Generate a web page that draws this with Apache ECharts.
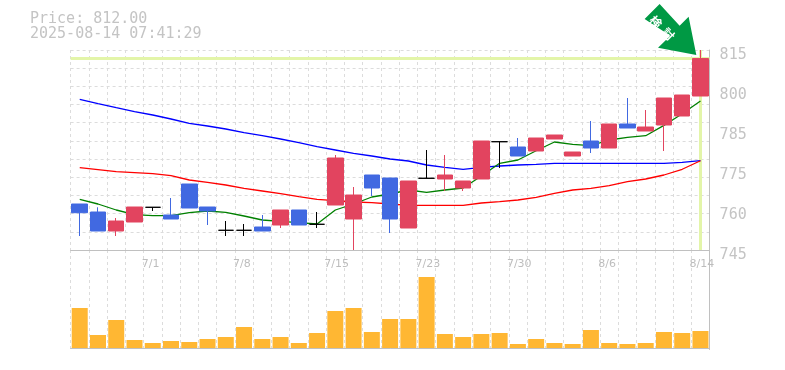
<!DOCTYPE html>
<html><head><meta charset="utf-8">
<style>html,body{margin:0;padding:0;background:#fff}#c{width:785px;height:370px}</style>
<script src="https://cdn.jsdelivr.net/npm/echarts@6/dist/echarts.min.js"></script>
</head><body><div id="c"></div>
<script>
const title = ['Price: 812.00', '2025-08-14 07:41:29'];
const dates = ['6/25','6/26','6/27','6/30','7/1','7/2','7/3','7/4','7/7','7/8','7/9','7/10','7/11','7/14','7/15','7/16','7/17','7/18','7/22','7/23','7/24','7/25','7/28','7/29','7/30','7/31','8/1','8/4','8/5','8/6','8/7','8/8','8/12','8/13','8/14'];
const shownDates = ['7/1','7/8','7/15','7/23','7/30','8/6','8/14'];
const opens  = [761.1,758.3,751.65,754.8,759.95,757.25,768.1,760.05,751.9,751.9,753.05,753.75,759,754,760.75,755.85,771.25,770.2,752.7,770.1,769.85,766.7,769.85,782.9,781.05,779.65,783.85,777.9,783.15,780.7,789.1,786.65,788.75,791.9,798.9];
const closes = [758.05,751.65,755.15,760.05,759.95,755.85,759.7,758.65,751.9,751.9,751.65,759,753.75,754,777.2,764.25,766.7,755.85,769.15,770.1,771.25,769.15,783.15,782.9,777.9,784.2,785.25,779.3,780.7,789.1,787.7,788.05,798.2,799.25,812];
const lows   = [749.9,751.65,749.9,754.8,758.65,755.85,759.7,753.75,749.9,749.9,751.65,752.7,753.75,752.7,760.75,745,763.9,750.95,752.7,770.1,765.65,765.65,769.85,773.7,777.9,779.65,783.85,777.9,778.95,780.7,787.7,786.65,779.65,791.9,798.9];
const highs  = [761.1,759.95,756.2,760.05,759.95,763.2,768.1,760.05,755.15,754.1,757.25,759,759,758.3,778.25,767.05,771.25,770.2,769.15,780,778.25,769.15,783.15,782.9,784.2,784.2,785.25,779.3,790.15,789.1,798.2,794,798.2,799.25,815];
const ma5    = [762.75,761.1,759,757.35,757,757,758.05,758.65,758.2,756.9,755.5,755.05,754.55,754.1,759,761.1,763.55,764.6,766,765.2,766,766.7,770.9,775.35,776.5,779.75,782.8,782,781.5,783.5,784.45,785,788.6,792.7,797.15];
const ma25   = [797.75,796.25,794.8,793.45,792.25,790.85,789.35,788.4,787.35,786.05,785,783.85,782.55,781.15,780,778.85,777.9,776.85,776.15,774.75,773.95,773.25,773.95,774.4,774.75,775,775.35,775.35,775.35,775.35,775.35,775.35,775.35,775.7,776.25];
const ma75   = [773.8,773.1,772.4,772.05,771.7,771,769.5,768.7,767.75,766.6,765.65,764.7,763.65,762.75,762.25,761.8,761.55,761.1,760.65,760.65,760.65,760.65,761.45,761.9,762.5,763.45,764.85,766,766.6,767.5,768.9,769.85,771.25,773.25,776.25];
const volumes = [40,13,28,8,5,7,6,9,11,21,9,11,5,15,37,40,16,29,29,71,14,11,14,15,4,9,5,4,18,5,4,5,16,15,17];
const axisLabels = ['745','760','775','785','800','815'];
const labelTicks = [745,759,773,787,801,815];
const priceMin = 745, priceMax = 815, currentPrice = 812;
const gridTicks = [745,751.36,757.73,764.09,770.45,776.82,783.18,789.55,795.91,802.27,808.64,815];
const arrowText = '検  討';

const gridLine = {show:true, lineStyle:{color:'#dcdcdc', type:[3,3], width:1}};
const textCol = '#c4c4c4';
const mono = '"DejaVu Sans Mono"';
const maLine = (data,color,z)=>({type:'line',data,xAxisIndex:0,yAxisIndex:0,symbol:'none',silent:true,animation:false,z,lineStyle:{color,width:1.3}});

const chart = echarts.init(document.getElementById('c'),null,{renderer:'canvas'});
chart.setOption({
  animation:false,
  backgroundColor:'#fff',
  title:{left:30,top:12,padding:0,text:title.join('\n'),textStyle:{fontFamily:mono,fontSize:15,fontWeight:'normal',color:textCol,lineHeight:15}},
  grid:[{left:70.6,top:50,width:639,height:200},{left:70.6,top:250,width:639,height:99.5}],
  xAxis:[
    {type:'category',gridIndex:0,data:dates,boundaryGap:true,
     axisLine:{lineStyle:{color:'#c0c0c0',width:1}},axisTick:{show:false},
     axisLabel:{interval:i=>shownDates.includes(dates[i]),hideOverlap:false,color:'#bdbdbd',fontFamily:'"DejaVu Sans"',fontSize:11,margin:9,align:'left',padding:[0,0,0,-11]},
     splitLine:{...gridLine,interval:0}},
    {type:'category',gridIndex:1,data:dates,boundaryGap:true,
     axisLine:{lineStyle:{color:'#c0c0c0',width:1}},axisTick:{show:false},axisLabel:{show:false},
     splitLine:{...gridLine,interval:0}}
  ],
  yAxis:[
    {type:'value',gridIndex:0,position:'right',min:priceMin,max:priceMax,scale:true,
     axisLine:{show:true,lineStyle:{color:'#c0c0c0',width:1}},
     axisTick:{show:false,customValues:gridTicks},
     axisLabel:{customValues:labelTicks,color:textCol,fontFamily:mono,fontSize:15,margin:10,verticalAlign:'top',lineHeight:10,
       formatter:v=>axisLabels[labelTicks.indexOf(v)]},
     splitLine:gridLine},
    {type:'value',gridIndex:1,position:'right',min:-1.5,max:98,
     axisLine:{show:true,lineStyle:{color:'#c0c0c0',width:1}},axisTick:{show:false},axisLabel:{show:false},splitLine:{show:false}}
  ],
  series:[
    {type:'line',data:[],xAxisIndex:0,yAxisIndex:0,z:1,silent:true,symbol:'none',
     markLine:{silent:true,symbol:'none',animation:false,z:1,label:{show:false},
       lineStyle:{color:'#e3f5a9',width:3,type:'solid'},
       data:[{yAxis:currentPrice},{xAxis:dates[dates.length-1]}]}},
    maLine(ma25,'#0000ff',2),
    maLine(ma75,'#ff0000',2),
    maLine(ma5,'#008000',2),
    {type:'candlestick',xAxisIndex:0,yAxisIndex:0,z:3,barWidth:16,silent:true,
     data:dates.map((d,i)=>[opens[i],closes[i],lows[i],highs[i]]),
     itemStyle:{color:'#e2445f',color0:'#4169e1',borderColor:'#e2445f',borderColor0:'#4169e1',borderColorDoji:'#000',borderWidth:1},
     markPoint:{silent:true,animation:false,
       data:[{coord:[dates[dates.length-1],priceMax],
         symbol:'path://M15 0 L0 15 L25.7 31.7 L13.4 43.7 L51.7 51 L44 12.7 L35 21.7 Z',
         symbolSize:[51.7,51],symbolKeepAspect:false,symbolOffset:[-30,-20.5],
         itemStyle:{color:'#009944'},
         label:{show:true,position:'inside',formatter:arrowText,rotate:-45,color:'#fff',fontSize:12,fontWeight:'bold',fontFamily:'"Noto Sans CJK JP"',offset:[-7,5]}}]}},
    {type:'bar',xAxisIndex:1,yAxisIndex:1,data:volumes,barWidth:16,silent:true,itemStyle:{color:'#ffb733'}}
  ]
});
</script></body></html>
